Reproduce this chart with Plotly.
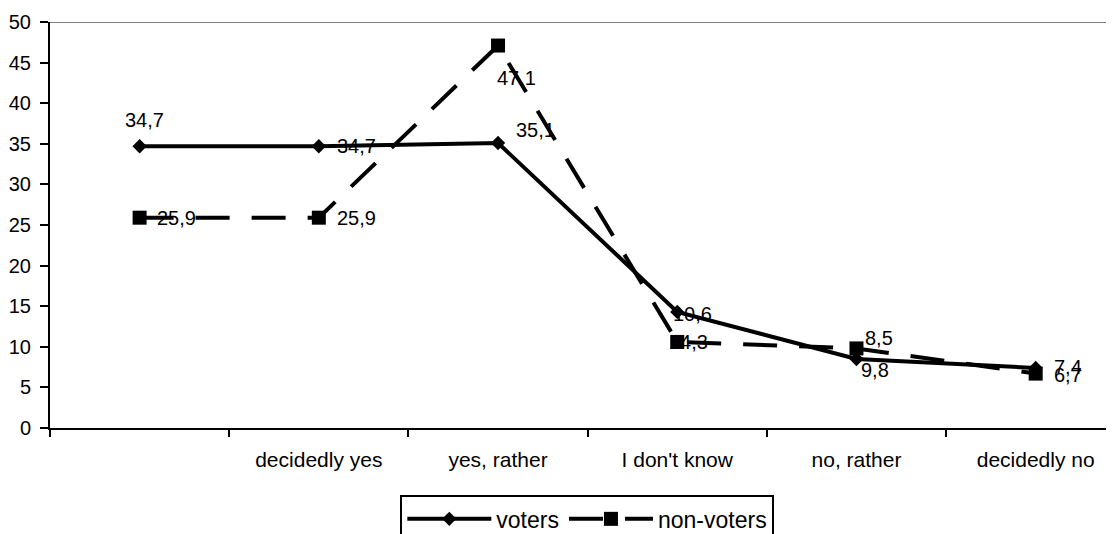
import plotly.graph_objects as go

categories = [" ", "decidedly yes", "yes, rather", "I don't know", "no, rather", "decidedly no"]
voters = [34.7, 34.7, 35.1, 14.3, 8.5, 7.4]
non_voters = [25.9, 25.9, 47.1, 10.6, 9.8, 6.7]
y_ticks = list(range(0, 51, 5))

FONT = "Arial, Liberation Sans, sans-serif"

def fmt(v):
    return f"{v:.1f}".replace(".", ",")

fig = go.Figure()
fig.add_trace(go.Scatter(
    x=categories, y=voters, name="voters", mode="lines+markers",
    line=dict(color="black", width=4),
    marker=dict(symbol="diamond", size=11, color="black"),
))
fig.add_trace(go.Scatter(
    x=categories, y=non_voters, name="non-voters", mode="lines+markers",
    line=dict(color="black", width=4, dash="34px,22px"),
    marker=dict(symbol="square", size=14, color="black"),
))

# data labels (as in the source, labels at index 3 and 4 sit on the other series' point)
voter_shifts = [(5, 26), (38, 0), (37, 13), (15, -2), (19, -11), (32, 1)]
nonvoter_shifts = [(37, 0), (38, 0), (18, -32), (11, 0), (23, 10), (32, -1)]
swapped = {3, 4}
for i, cat in enumerate(categories):
    va, na = voters[i], non_voters[i]
    vt, nt = (fmt(na), fmt(va)) if i in swapped else (fmt(va), fmt(na))
    fig.add_annotation(x=cat, y=va, text=vt, showarrow=False,
                       xshift=voter_shifts[i][0], yshift=voter_shifts[i][1],
                       font=dict(size=20, color="black", family=FONT))
    fig.add_annotation(x=cat, y=na, text=nt, showarrow=False,
                       xshift=nonvoter_shifts[i][0], yshift=nonvoter_shifts[i][1],
                       font=dict(size=20, color="black", family=FONT))

fig.add_shape(type="line", xref="paper", yref="y", x0=0, x1=1, y0=50, y1=50,
              line=dict(color="#808080", width=2))

# the page adds an 8px body margin, so the figure is 8px smaller and margins shifted
fig.update_layout(
    width=1106, height=526,
    margin=dict(l=42, r=0, t=14, b=106, autoexpand=False),
    paper_bgcolor="white", plot_bgcolor="white",
    font=dict(family=FONT, size=20, color="black"),
    showlegend=True,
    legend=dict(orientation="h", x=0.505, xanchor="center", y=-0.166, yanchor="top",
                bordercolor="black", borderwidth=2, font=dict(size=23),
                itemwidth=84, bgcolor="white"),
    xaxis=dict(type="category", categoryorder="array", categoryarray=categories,
               range=[-0.5, 5.437], showgrid=False, showline=True, linecolor="black",
               linewidth=2, ticks="outside", tickson="boundaries", ticklen=7,
               tickwidth=2, tickcolor="black", tickfont=dict(size=21), zeroline=False,
               automargin=False, ticklabelstandoff=12),
    yaxis=dict(range=[0, 50], tickvals=y_ticks, showgrid=False, showline=True,
               linecolor="black", linewidth=2, ticks="outside", ticklen=8,
               tickwidth=2, tickcolor="black", tickfont=dict(size=20), zeroline=False,
               automargin=False, ticklabelstandoff=5),
)

fig.write_html("out.html")
